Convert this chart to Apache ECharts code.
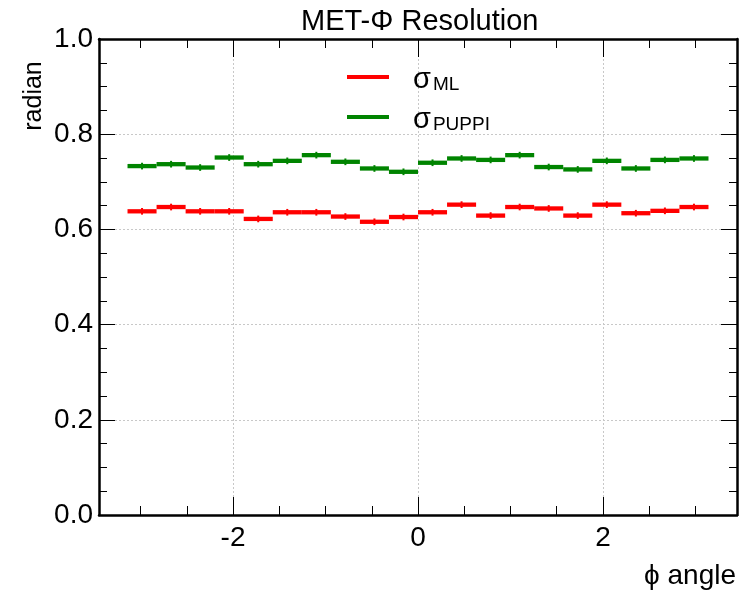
<!DOCTYPE html>
<html>
<head>
<meta charset="utf-8">
<script src="https://cdn.jsdelivr.net/npm/echarts@6/dist/echarts.min.js"></script>
<style>html,body{margin:0;padding:0;background:#fff}#c{width:739px;height:593px}</style>
</head>
<body>
<div id="c"></div>
<script>
// Bin centres of phi (20 bins over -pi..pi)
const binCenters = [-2.98451, -2.67035, -2.35619, -2.04204, -1.72788, -1.41372, -1.09956, -0.78540, -0.47124, -0.15708,
                    0.15708, 0.47124, 0.78540, 1.09956, 1.41372, 1.72788, 2.04204, 2.35619, 2.67035, 2.98451];
const binWidth = 0.31416;
// sigma_ML resolution per bin
const sigmaML = [0.638, 0.647, 0.638, 0.638, 0.622, 0.636, 0.636, 0.627, 0.616, 0.626,
                 0.636, 0.652, 0.629, 0.647, 0.644, 0.629, 0.652, 0.634, 0.639, 0.647];
const sigmaMLErr = [0.007, 0.007, 0.007, 0.007, 0.007, 0.007, 0.007, 0.007, 0.007, 0.007,
                    0.007, 0.007, 0.007, 0.007, 0.007, 0.007, 0.007, 0.007, 0.007, 0.007];
// sigma_PUPPI resolution per bin
const sigmaPUPPI = [0.733, 0.737, 0.730, 0.751, 0.737, 0.744, 0.756, 0.742, 0.728, 0.721,
                    0.740, 0.749, 0.746, 0.756, 0.731, 0.726, 0.744, 0.728, 0.746, 0.749];
const sigmaPUPPIErr = [0.007, 0.007, 0.007, 0.007, 0.007, 0.007, 0.007, 0.007, 0.007, 0.007,
                       0.007, 0.007, 0.007, 0.007, 0.007, 0.007, 0.007, 0.007, 0.007, 0.007];
const seriesNames = ['ML', 'PUPPI'];
const colors = ['#ff0000', '#008400'];

const FONT = 'Liberation Sans, Arial, Helvetica, sans-serif';

function makeData(vals, errs) {
  return binCenters.map((c, i) => [c, vals[i], errs[i], binWidth]);
}

function makeRender(color) {
  return function (params, api) {
    const x = api.value(0), y = api.value(1), e = api.value(2), w = api.value(3);
    const a = api.coord([x - w / 2, y]);
    const b = api.coord([x + w / 2, y]);
    const t = api.coord([x, y + e]);
    const d = api.coord([x, y - e]);
    return {
      type: 'group',
      children: [
        { type: 'line', shape: { x1: a[0], y1: a[1], x2: b[0], y2: b[1] }, style: { stroke: color, lineWidth: 4.3 } },
        { type: 'line', shape: { x1: t[0], y1: t[1], x2: d[0], y2: d[1] }, style: { stroke: color, lineWidth: 2 } }
      ]
    };
  };
}

const xCommon = {
  type: 'value', min: -3.45, max: 3.45, splitNumber: 3,
  axisLine: { show: true, onZero: false, lineStyle: { color: '#000', width: 2.5 } },
  axisTick: { show: true, inside: true, length: 18, lineStyle: { color: '#000', width: 1 } },
  minorTick: { show: true, splitNumber: 4, length: 9, lineStyle: { color: '#000', width: 1 } },
};
const yCommon = {
  type: 'value', min: 0, max: 1, interval: 0.2,
  axisLine: { show: true, onZero: false, lineStyle: { color: '#000', width: 2.5 } },
  axisTick: { show: true, inside: true, length: 16, lineStyle: { color: '#000', width: 1 } },
  minorTick: { show: true, splitNumber: 4, length: 8, lineStyle: { color: '#000', width: 1 } },
};

const chart = echarts.init(document.getElementById('c'), null, { renderer: 'canvas' });
chart.setOption({
  animation: false,
  backgroundColor: '#fff',
  title: {
    text: 'MET-Φ Resolution', left: 296, top: 2,
    textStyle: { fontFamily: FONT, fontSize: 29, fontWeight: 'normal', color: '#000' }
  },
  grid: { left: 99, right: 2, top: 39, bottom: 78, containLabel: false },
  legend: {
    left: 347, top: 65, padding: 0, orient: 'vertical', itemGap: 11,
    itemWidth: 42, itemHeight: 4, icon: 'rect',
    data: seriesNames.map(n => ({ name: n })),
    formatter: function (name) { return '{s|σ}{sub|' + name + '}'; },
    textStyle: {
      rich: {
        s: { fontFamily: FONT, fontSize: 29, color: '#000', lineHeight: 34, verticalAlign: 'bottom', padding: [0, 2, 0, 19] },
        sub: { fontFamily: FONT, fontSize: 19, color: '#000', lineHeight: 14, verticalAlign: 'bottom' }
      }
    }
  },
  xAxis: [
    Object.assign({}, xCommon, {
      position: 'bottom',
      axisLabel: { show: true, showMinLabel: false, showMaxLabel: false, margin: 9, fontFamily: FONT, fontSize: 28, color: '#000' },
      splitLine: { show: true, lineStyle: { color: '#c8c8c8', type: [2, 2], width: 1 } }
    }),
    Object.assign({}, xCommon, {
      position: 'top',
      axisLabel: { show: false },
      splitLine: { show: false }
    })
  ],
  yAxis: [
    Object.assign({}, yCommon, {
      position: 'left',
      axisLabel: { show: true, margin: 6, fontFamily: FONT, fontSize: 28, color: '#000', formatter: v => v.toFixed(1) },
      splitLine: { show: true, lineStyle: { color: '#c8c8c8', type: [2, 2], width: 1 } }
    }),
    Object.assign({}, yCommon, {
      position: 'right',
      axisLabel: { show: false },
      splitLine: { show: false }
    })
  ],
  graphic: [
    { type: 'text', x: 34, y: 96, rotation: Math.PI / 2,
      style: { text: 'radian', fontFamily: FONT, fontSize: 25, fill: '#000', textAlign: 'center', textVerticalAlign: 'middle' } },
    { type: 'text', x: 736, y: 576,
      style: { text: 'ϕ angle', fontFamily: FONT, fontSize: 28, fill: '#000', textAlign: 'right', textVerticalAlign: 'middle' } }
  ],
  series: [
    { name: seriesNames[0], type: 'custom', xAxisIndex: 0, yAxisIndex: 0, itemStyle: { color: colors[0] },
      renderItem: makeRender(colors[0]), encode: { x: 0, y: 1 }, data: makeData(sigmaML, sigmaMLErr), clip: true },
    { name: seriesNames[1], type: 'custom', xAxisIndex: 0, yAxisIndex: 0, itemStyle: { color: colors[1] },
      renderItem: makeRender(colors[1]), encode: { x: 0, y: 1 }, data: makeData(sigmaPUPPI, sigmaPUPPIErr), clip: true }
  ]
});
</script>
</body>
</html>
